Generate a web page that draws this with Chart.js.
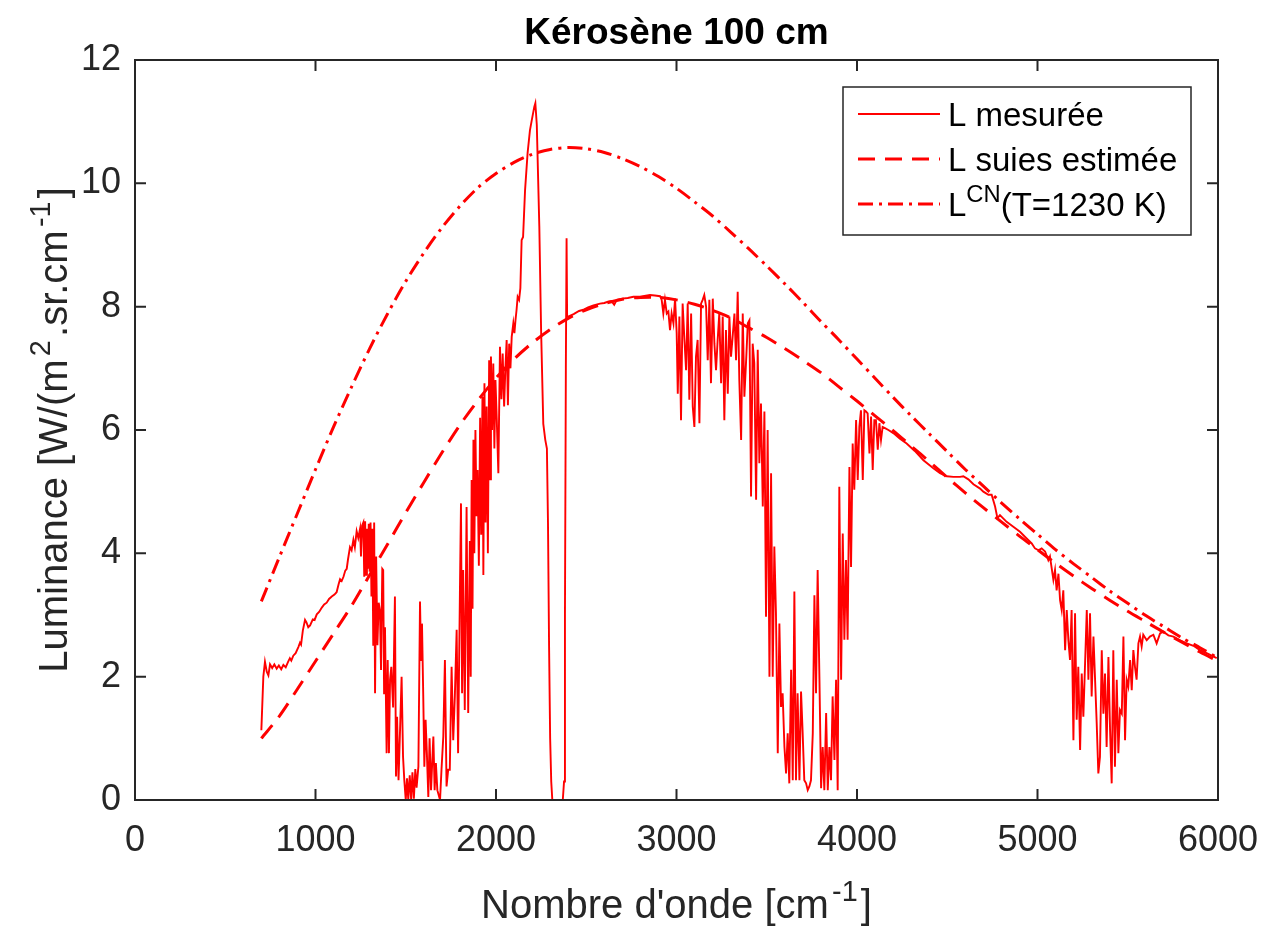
<!DOCTYPE html>
<html><head><meta charset="utf-8">
<script src="https://cdn.jsdelivr.net/npm/chart.js@4.4.0/dist/chart.umd.min.js"></script>
<style>html,body{margin:0;padding:0;background:#fff;}#wrap{width:1264px;height:928px;}</style>
</head><body><div id="wrap"><canvas id="c" width="1264" height="928"></canvas></div>
<script>
// ---------- data ----------
const chartTitle = 'Kérosène 100 cm';
const xLabel = "Nombre d'onde [cm^{-1}]";
const yLabel = 'Luminance [W/(m^{2}.sr.cm^{-1}]';
const xTicks = [0, 1000, 2000, 3000, 4000, 5000, 6000];
const yTicks = [0, 2, 4, 6, 8, 10, 12];
const seriesNames = ['L mesurée', 'L suies estimée', 'L^{CN}(T=1230 K)'];

const measWn = [700,711,720,730,739,748,760,772,785,797,810,822,835,848,858,866,877,890,905,914,920,930,942,950,960,970,985,995,1007,1020,1035,1048,1062,1075,1090,1105,1117,1128,1136,1145,1155,1165,1173,1180,1191,1200,1210,1218,1228,1237,1247,1252,1258,1265,1270,1275,1280,1285,1290,1295,1300,1305,1310,1315,1320,1325,1330,1336,1343,1350,1357,1363,1370,1375,1380,1385,1394,1400,1407,1413,1420,1430,1440,1446,1452,1460,1468,1477,1485,1492,1500,1507,1514,1522,1530,1537,1545,1553,1560,1570,1579,1585,1590,1597,1603,1610,1617,1625,1632,1640,1653,1660,1667,1675,1690,1698,1708,1717,1726,1735,1744,1754,1763,1772,1782,1790,1800,1806,1812,1818,1827,1837,1846,1855,1860,1865,1870,1875,1880,1886,1892,1898,1905,1912,1918,1925,1930,1936,1942,1948,1955,1962,1967,1972,1978,1985,1991,1997,2004,2013,2022,2030,2037,2045,2052,2059,2066,2073,2080,2087,2096,2102,2108,2114,2120,2128,2135,2142,2150,2161,2175,2188,2198,2212,2218,2226,2240,2250,2262,2273,2282,2288,2294,2300,2306,2312,2340,2370,2377,2382,2387,2391,2394,2400,2430,2460,2484,2510,2540,2576,2600,2620,2640,2655,2669,2700,2730,2761,2798,2830,2853,2880,2909,2918,
2927,2936,2946,2955,2964,2973,2983,2992,3001,3007,3016,3025,3034,3044,3053,3062,3071,3081,3090,3099,3108,3117,3127,3136,3145,3154,3164,3173,3182,3191,3201,3210,3219,3228,3237,3247,3256,3265,3274,3284,3293,3302,3311,3321,3330,3339,3348,3358,3367,3376,3385,3395,3404,3413,3422,3431,3441,3450,3459,3468,3478,3487,3496,3505,3515,3524,3533,3542,3551,3561,3570,3579,3588,3598,3607,3616,3625,3635,3644,3653,3662,3671,3681,3690,3699,3708,3718,3727,3736,3745,3755,3764,3773,3782,3792,3801,3810,3819,3829,3838,3847,3856,3865,3875,3884,3893,3902,3912,3921,3930,3939,3948,3958,3967,3976,3985,3995,4004,4013,4022,4032,4041,4050,4059,4069,4078,4087,4096,4105,4115,4124,4133,4142,4155,4174,4201,4238,4275,4320,4368,4423,4460,4497,4534,4571,4589,4617,4645,4682,4700,4728,4746,4765,4778,4792,4829,4866,4903,4940,4968,4986,5005,5023,5042,5060,5069,5088,5097,5106,5116,5125,5134,5143,5153,5162,5171,5180,5189,5199,5208,5217,5226,5236,5245,5254,5263,5273,5282,5291,5300,5310,5319,5328,5337,5346,5356,5365,5374,5383,5393,5402,5411,5420,5429,5439,5448,5457,5467,5476,5485,5494,5503,5513,5522,5531,5540,5549,5559,5568,5577,5586,5605,5623,5642,5660,5679,5697,5725,5753,5790,5827,5864,5900,5937,5993];
const measL = [1.13,2.00,2.24,2.08,2.02,2.20,2.14,2.20,2.13,2.18,2.12,2.19,2.15,2.24,2.30,2.26,2.34,2.38,2.48,2.55,2.52,2.75,2.92,2.88,2.80,2.83,2.93,2.92,3.01,3.05,3.12,3.17,3.20,3.26,3.30,3.33,3.37,3.50,3.58,3.55,3.62,3.72,3.75,3.90,4.10,4.05,4.22,4.10,4.36,4.25,4.40,3.95,4.45,4.50,3.62,4.52,3.65,4.40,3.75,4.48,3.70,4.50,3.30,4.40,2.50,4.50,1.73,3.95,2.51,3.20,3.08,2.11,3.75,3.73,1.73,2.80,0.76,2.27,0.76,1.95,2.16,1.50,3.30,0.38,1.35,0.32,1.10,2.00,0.70,0.32,0.00,0.35,0.00,0.40,0.00,0.45,0.02,0.50,0.20,0.54,3.22,2.27,2.86,1.68,0.54,1.30,0.76,0.05,1.00,0.16,1.03,0.16,0.60,0.16,0.00,0.49,1.03,2.27,0.22,0.49,0.49,2.16,0.97,1.68,2.76,0.76,3.35,4.81,1.73,3.73,1.46,4.75,1.41,4.20,2.00,5.19,3.10,5.84,4.00,6.00,4.60,5.35,3.80,6.20,4.30,6.54,3.65,6.76,4.50,6.38,4.00,7.13,5.20,7.19,6.00,7.08,5.70,6.81,6.20,5.30,7.35,6.50,7.24,6.38,7.00,7.46,6.40,7.40,7.00,7.51,7.73,7.57,7.78,7.95,8.16,8.11,8.30,9.08,9.13,9.89,10.49,10.86,11.02,11.24,11.30,10.95,9.30,7.60,6.10,5.84,5.70,4.50,2.50,1.00,0.30,0.00,0.00,0.00,0.30,3.00,7.00,9.11,7.85,7.84,7.88,7.93,7.95,7.99,8.02,8.05,8.06,8.08,8.09,8.03,8.11,8.13,8.14,8.16,8.16,8.18,8.19,8.18,8.17,8.11,
7.89,8.11,7.89,7.92,7.62,7.89,7.73,8.13,7.57,6.59,7.84,6.16,8.05,7.46,6.97,8.05,6.49,7.89,6.38,6.05,7.19,7.46,6.11,8.05,8.11,8.19,8.00,7.13,8.11,6.76,8.13,7.40,6.97,7.46,7.89,6.76,7.84,6.16,7.62,6.59,7.84,7.19,7.51,7.89,7.13,8.24,6.81,5.84,7.89,6.54,7.08,7.73,7.78,4.92,7.40,7.08,4.87,7.30,5.46,6.43,4.76,6.30,2.97,6.00,2.00,5.30,2.00,4.11,3.03,0.76,2.86,1.51,1.73,0.86,0.43,1.08,0.27,2.11,0.32,3.38,0.32,1.73,0.32,1.76,1.08,0.32,0.27,0.16,0.22,0.32,1.08,3.32,1.73,3.73,1.95,0.19,0.86,0.16,1.41,0.16,0.86,0.32,1.68,0.65,1.95,0.16,5.08,1.95,4.32,2.60,3.89,2.60,5.40,3.78,5.78,5.03,6.16,5.19,6.05,6.32,5.19,6.32,6.30,6.27,5.62,6.22,5.35,6.16,6.16,5.68,6.11,5.84,6.05,6.03,6.00,5.95,5.86,5.78,5.66,5.51,5.38,5.30,5.25,5.24,5.24,5.25,5.20,5.12,5.05,5.00,4.95,4.95,4.76,4.57,4.62,4.51,4.43,4.35,4.24,4.16,4.08,4.05,4.08,4.03,3.89,3.95,3.57,3.73,3.40,3.67,3.24,3.08,3.40,2.43,3.08,2.59,2.27,3.08,0.97,3.03,1.30,2.16,0.81,2.05,1.35,2.16,3.08,1.95,3.03,1.68,2.65,1.95,1.24,0.43,0.70,2.43,1.40,2.05,0.86,2.32,1.13,0.27,2.43,0.54,1.95,0.76,1.46,1.40,2.65,0.97,1.95,1.84,2.27,1.78,2.43,2.16,1.95,2.54,2.65,2.49,2.68,2.59,2.65,2.68,2.54,2.70,2.73,2.67,2.65,2.59,2.54,2.50,2.43,2.38,2.30];

const smoothWn = [700,800,900,1000,1100,1200,1300,1400,1500,1600,1700,1800,1900,2000,2100,2200,2300,2400,2500,2600,2700,2800,2900,3000,3100,3200,3300,3400,3500,3600,3700,3800,3900,4000,4100,4200,4300,4400,4500,4600,4700,4800,4900,5000,5100,5200,5300,5400,5500,5600,5700,5800,5900,6000];
const sootL = [1.00,1.36,1.80,2.25,2.70,3.15,3.65,4.15,4.66,5.15,5.63,6.08,6.48,6.84,7.15,7.41,7.63,7.81,7.95,8.05,8.12,8.15,8.15,8.11,8.04,7.94,7.82,7.66,7.50,7.32,7.13,6.93,6.70,6.47,6.23,5.99,5.74,5.49,5.23,4.98,4.74,4.51,4.28,4.06,3.84,3.63,3.43,3.24,3.06,2.89,2.72,2.56,2.40,2.25];
const cnL = [3.22,3.94,4.65,5.36,6.05,6.70,7.32,7.89,8.41,8.87,9.28,9.63,9.93,10.16,10.34,10.47,10.55,10.58,10.56,10.50,10.40,10.27,10.11,9.92,9.70,9.47,9.21,8.94,8.66,8.37,8.07,7.76,7.46,7.15,6.84,6.53,6.23,5.94,5.65,5.36,5.09,4.82,4.56,4.31,4.06,3.83,3.61,3.39,3.19,2.99,2.81,2.63,2.47,2.30];

// ---------- style ----------
const FONT = '"Liberation Sans", Arial, Helvetica, sans-serif';
const AXIS = '#262626';
const RED = '#ff0000';
const TL = 11;

function pts(xs, ys){ return xs.map((v,i)=>({x:v, y:ys[i]})); }

function parseRich(s){
  const out=[]; let buf=''; let i=0;
  while(i<s.length){
    if(s[i]==='^'){
      if(buf){out.push({t:buf,sup:false});buf='';}
      if(s[i+1]==='{'){const j=s.indexOf('}',i); out.push({t:s.slice(i+2,j),sup:true}); i=j+1;}
      else {out.push({t:s[i+1],sup:true}); i+=2;}
    } else {buf+=s[i]; i++;}
  }
  if(buf) out.push({t:buf,sup:false});
  return out;
}
function drawRich(ctx, s, x, y, size, align, weight, supGap){
  const parts = parseRich(s);
  const supSize = size*0.72;
  const gap = (supGap||0)*size;
  const f = (sz)=> (weight||'normal')+' '+sz+'px '+FONT;
  let w=0;
  parts.forEach(p=>{ctx.font=f(p.sup?supSize:size); p.w=ctx.measureText(p.t).width + (p.sup?2*gap:0); w+=p.w;});
  let cx = align==='center'? x-w/2 : (align==='right'? x-w : x);
  ctx.textBaseline='alphabetic'; ctx.textAlign='left';
  parts.forEach(p=>{
    ctx.font=f(p.sup?supSize:size);
    ctx.fillText(p.t, cx + (p.sup?gap:0), p.sup? y-size*0.42 : y);
    cx+=p.w;
  });
}

const datasets = [
  {label:seriesNames[0], data:pts(measWn, measL), borderColor:RED, borderWidth:1.9, pointRadius:0, tension:0, fill:false},
  {label:seriesNames[1], data:pts(smoothWn, sootL), borderColor:RED, borderWidth:3, borderDash:[17,10], pointRadius:0, tension:0.3, fill:false},
  {label:seriesNames[2], data:pts(smoothWn, cnL), borderColor:RED, borderWidth:3, borderDash:[15,6,3,6], pointRadius:0, tension:0.3, fill:false}
];

const framePlugin = {
  id:'frame',
  afterDatasetsDraw(chart){
    const {ctx, chartArea:a, scales:{x,y}} = chart;
    ctx.save();
    ctx.strokeStyle=AXIS; ctx.lineWidth=2;
    ctx.beginPath();
    xTicks.forEach(v=>{const p=x.getPixelForValue(v); ctx.moveTo(p,a.bottom); ctx.lineTo(p,a.bottom-TL); ctx.moveTo(p,a.top); ctx.lineTo(p,a.top+TL);});
    yTicks.forEach(v=>{const p=y.getPixelForValue(v); ctx.moveTo(a.left,p); ctx.lineTo(a.left+TL,p); ctx.moveTo(a.right,p); ctx.lineTo(a.right-TL,p);});
    ctx.stroke();
    ctx.strokeRect(a.left,a.top,a.right-a.left,a.bottom-a.top);
    ctx.restore();
  },
  afterDraw(chart){
    const {ctx, chartArea:a} = chart;
    ctx.save();
    ctx.fillStyle='#000';
    drawRich(ctx, chartTitle, (a.left+a.right)/2, 44, 37, 'center', 'bold');
    ctx.fillStyle=AXIS;
    drawRich(ctx, xLabel, (a.left+a.right)/2, 918, 40, 'center', 'normal', 0.08);
    ctx.translate(67, (a.top+a.bottom)/2);
    ctx.rotate(-Math.PI/2);
    drawRich(ctx, yLabel, 0, 0, 40, 'center', 'normal', 0.08);
    ctx.restore();
    // legend
    ctx.save();
    const bx=843, by=87, bw=348, bh=148;
    ctx.fillStyle='#fff'; ctx.fillRect(bx,by,bw,bh);
    ctx.strokeStyle=AXIS; ctx.lineWidth=1.5; ctx.strokeRect(bx,by,bw,bh);
    const rows=[126,171,216];
    chart.data.datasets.forEach((ds,i)=>{
      const ly = rows[i]-12;
      ctx.strokeStyle=ds.borderColor; ctx.lineWidth=ds.borderWidth;
      ctx.setLineDash(ds.borderDash||[]);
      ctx.beginPath(); ctx.moveTo(858,ly); ctx.lineTo(940,ly); ctx.stroke();
      ctx.setLineDash([]);
      ctx.fillStyle='#000';
      drawRich(ctx, ds.label, 948, rows[i], 33, 'left');
    });
    ctx.restore();
  }
};

new Chart(document.getElementById('c'), {
  type:'line',
  data:{datasets},
  options:{
    responsive:false, animation:false, devicePixelRatio:1,
    layout:{padding:{left:0,right:46,top:60,bottom:0}},
    plugins:{legend:{display:false}, title:{display:false}, tooltip:{enabled:false}},
    scales:{
      x:{type:'linear', min:0, max:6000,
        afterBuildTicks:s=>{s.ticks=xTicks.map(v=>({value:v}));},
        afterFit:s=>{s.height=128; s.paddingLeft=0; s.paddingRight=0;},
        grid:{display:false, drawTicks:false}, border:{display:false},
        ticks:{color:AXIS, font:{family:FONT, size:36}, padding:19, maxRotation:0, autoSkip:false, callback:v=>String(v)}},
      y:{type:'linear', min:0, max:12,
        afterBuildTicks:s=>{s.ticks=yTicks.map(v=>({value:v}));},
        afterFit:s=>{s.width=135; s.paddingTop=0; s.paddingBottom=0;},
        grid:{display:false, drawTicks:false}, border:{display:false},
        ticks:{color:AXIS, font:{family:FONT, size:36}, padding:14, autoSkip:false, callback:v=>String(v)}}
    }
  },
  plugins:[framePlugin]
});
</script></body></html>
